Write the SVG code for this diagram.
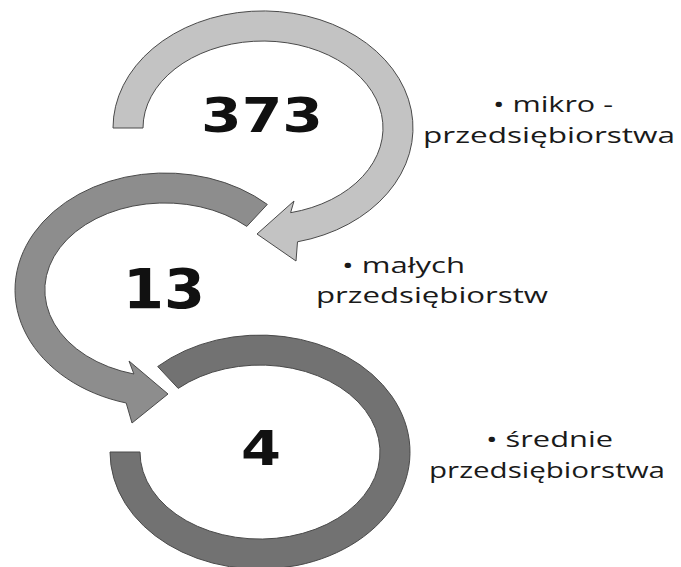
<svg xmlns="http://www.w3.org/2000/svg" width="681" height="567" viewBox="0 0 681 567">
<style>
.ring{stroke:#4a4a4a;stroke-width:1;stroke-linejoin:miter}
.r1{fill:#c3c3c3}
.r2{fill:#8d8d8d}
.r3{fill:#727272}
.num{font-family:"DejaVu Sans","Liberation Sans",sans-serif;font-weight:bold;fill:#111;text-anchor:middle}
.lbl{font-family:"Open Sans","Noto Sans","Liberation Sans",sans-serif;font-size:21.5px;fill:#1a1a1a}
</style>
<rect width="681" height="567" fill="#ffffff"/>
<g id="connectors">
<path id="arc-mikro" class="ring r1" d="M113,128 A150,117 0 1 1 297.5,241.8 L296,261 L257,234 L294,201 L290.6,212.7 A120,87 0 1 0 143,128 Z"/>
<path id="arc-male" class="ring r2" d="M267.3,204.4 A150,117 0 1 0 126.2,403 L132,423 L168,394 L129,361 L133.9,374 A120,87 0 1 1 246.8,226.4 Z"/>
<path id="arc-srednie" class="ring r3" d="M157.7,366.5 A150,117 0 1 1 110,452 L140,452 A120,87 0 1 0 178.2,388.4 Z"/>
</g>
<g id="node-mikro">
<text class="num" x="262" y="132" font-size="48" textLength="122" lengthAdjust="spacingAndGlyphs">373</text>
<text class="lbl" x="493" y="112" textLength="120" lengthAdjust="spacingAndGlyphs">• mikro -</text>
<text class="lbl" x="423" y="143" textLength="252" lengthAdjust="spacingAndGlyphs">przedsiębiorstwa</text>
</g>
<g id="node-male">
<text class="num" x="164" y="308" font-size="55" textLength="82" lengthAdjust="spacingAndGlyphs">13</text>
<text class="lbl" x="342" y="273" textLength="123" lengthAdjust="spacingAndGlyphs">• małych</text>
<text class="lbl" x="316" y="303" textLength="232" lengthAdjust="spacingAndGlyphs">przedsiębiorstw</text>
</g>
<g id="node-srednie">
<text class="num" x="261" y="465" font-size="48" textLength="40" lengthAdjust="spacingAndGlyphs">4</text>
<text class="lbl" x="486" y="447" textLength="127" lengthAdjust="spacingAndGlyphs">• średnie</text>
<text class="lbl" x="429" y="478" textLength="236" lengthAdjust="spacingAndGlyphs">przedsiębiorstwa</text>
</g>
</svg>
